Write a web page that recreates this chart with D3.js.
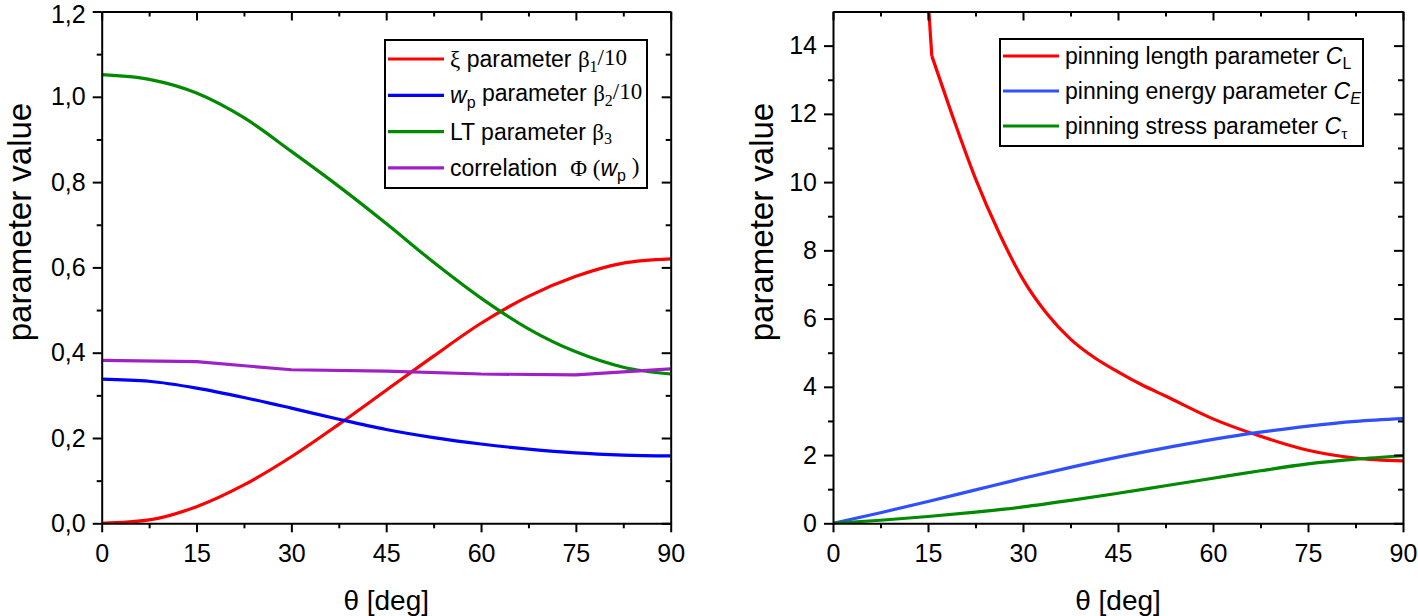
<!DOCTYPE html>
<html><head><meta charset="utf-8">
<script src="https://cdn.jsdelivr.net/npm/d3@7/dist/d3.min.js"></script>
<style>
body{margin:0;background:#fff}
text{font-family:"Liberation Sans",Arial,sans-serif;fill:#000}
</style>
</head><body><svg id="c" width="1418" height="616"></svg>
<script>
// ---------- data ----------
const thetaL   = [0,7.5,15,22.5,30,37.5,45,52.5,60,67.5,75,82.5,90];
const xiBeta1  = [0,0.008,0.039,0.09,0.156,0.232,0.312,0.392,0.469,0.532,0.579,0.61,0.62];
const wpBeta2  = [0.338,0.333,0.317,0.295,0.27,0.244,0.22,0.201,0.186,0.174,0.165,0.16,0.158];
const ltBeta3  = [1.052,1.041,1.009,0.951,0.872,0.79,0.703,0.612,0.528,0.456,0.402,0.366,0.35];
const thetaPhi = [0,15,30,45,60,75,90];
const phiWp    = [0.382,0.379,0.36,0.357,0.35,0.348,0.362];

const thetaCL   = [15,15.6,18.75,22.5,26.25,30,33.75,37.5,41.25,45,48.75,52.5,60,67.5,75,82.5,90];
const pinLength = [15.4,13.7,12.0,10.1,8.5,7.15,6.15,5.4,4.86,4.44,4.06,3.73,3.06,2.55,2.14,1.91,1.83];
const thetaR    = [0,7.5,15,22.5,30,37.5,45,52.5,60,67.5,75,82.5,90];
const pinEnergy = [0,0.31,0.64,0.98,1.32,1.64,1.94,2.21,2.46,2.67,2.85,2.99,3.07];
const pinStress = [0,0.09,0.2,0.33,0.48,0.67,0.88,1.1,1.32,1.54,1.74,1.88,1.98];

const xTicks  = [0,15,30,45,60,75,90];
const xMinor  = [7.5,22.5,37.5,52.5,67.5,82.5];
const yTicksL = [0,0.2,0.4,0.6,0.8,1.0,1.2];
const yMinorL = [0.1,0.3,0.5,0.7,0.9,1.1];
const yTicksR = [0,2,4,6,8,10,12,14];
const yMinorR = [1,3,5,7,9,11,13];

// ---------- drawing ----------
const svg = d3.select("#c");
const TOP = 11.5, BOT = 523.3;

function panel(opt){
  const g = svg.append("g");
  const x = d3.scaleLinear().domain([0,90]).range([opt.x0, opt.x1]);
  const y = d3.scaleLinear().domain(opt.yDom).range([BOT, TOP]);
  const style = sel => { sel.selectAll("path,line").attr("stroke","#000").attr("stroke-width",2);
                         sel.selectAll("text").attr("font-size",25).attr("font-family","Liberation Sans, Arial, sans-serif"); };
  const cid = "clip"+opt.id;
  svg.append("clipPath").attr("id",cid).append("rect")
     .attr("x",opt.x0).attr("y",TOP).attr("width",opt.x1-opt.x0).attr("height",BOT-TOP);
  const lg = g.append("g").attr("clip-path",`url(#${cid})`);
  opt.series.forEach(s=>{
    const pts = s.v.map((d,i)=>[s.t[i],d]);
    const segs = s.split ? [[pts.slice(0,s.split+1),d3.curveLinear],[pts.slice(s.split),d3.curveMonotoneX]]
                         : [[pts, s.curve||d3.curveMonotoneX]];
    segs.forEach(([p,c])=>{
      const line = d3.line().x(d=>x(d[0])).y(d=>y(d[1])).curve(c);
      lg.append("path").datum(p).attr("d",line).attr("fill","none")
        .attr("stroke",s.color).attr("stroke-width",3.2).attr("stroke-linejoin","round");
    });
  });
  const bottom = g.append("g").attr("transform",`translate(0,${BOT})`)
    .call(d3.axisBottom(x).tickValues(xTicks).tickSize(9).tickSizeOuter(0).tickPadding(6).tickFormat(d3.format("d")));
  style(bottom);
  bottom.selectAll("text").attr("dy","0.95em");
  g.append("g").attr("transform",`translate(0,${BOT})`)
    .call(d3.axisBottom(x).tickValues(xMinor).tickSize(5).tickSizeOuter(0).tickFormat("")).call(style)
    .select(".domain").remove();
  const left = g.append("g").attr("transform",`translate(${opt.x0},0)`)
    .call(d3.axisLeft(y).tickValues(opt.yTicks).tickSize(9).tickSizeOuter(0).tickPadding(7).tickFormat(opt.fmt));
  style(left);
  left.selectAll(".tick text").filter(d=>d===opt.yDom[1]).attr("dy","0.42em");
  g.append("g").attr("transform",`translate(${opt.x0},0)`)
    .call(d3.axisLeft(y).tickValues(opt.yMinor).tickSize(5).tickSizeOuter(0).tickFormat("")).call(style)
    .select(".domain").remove();
  g.append("g").attr("transform",`translate(0,${TOP})`)
    .call(d3.axisTop(x).tickValues(xTicks).tickSize(-9).tickSizeOuter(0).tickFormat("")).call(style);
  g.append("g").attr("transform",`translate(0,${TOP})`)
    .call(d3.axisTop(x).tickValues(xMinor).tickSize(-5).tickSizeOuter(0).tickFormat("")).call(style)
    .select(".domain").remove();
  g.append("g").attr("transform",`translate(${opt.x1},0)`)
    .call(d3.axisRight(y).tickValues(opt.yTicks).tickSize(-9).tickSizeOuter(0).tickFormat("")).call(style);
  g.append("g").attr("transform",`translate(${opt.x1},0)`)
    .call(d3.axisRight(y).tickValues(opt.yMinor).tickSize(-5).tickSizeOuter(0).tickFormat("")).call(style)
    .select(".domain").remove();
  g.append("text").attr("x",(opt.x0+opt.x1)/2).attr("y",610).attr("text-anchor","middle")
    .attr("font-size",28).text("θ [deg]");
  g.append("text").attr("transform",`translate(${opt.yTitleX},${opt.yTitleY}) rotate(-90)`)
    .attr("text-anchor","middle").attr("font-size",33).text("parameter value");
  const L = opt.legend;
  g.append("rect").attr("x",L.x).attr("y",L.y).attr("width",L.w).attr("height",L.h)
    .attr("fill","#fff").attr("stroke","#000").attr("stroke-width",2);
  L.items.forEach((it,i)=>{
    const yy = L.y + L.first + i*L.step;
    g.append("line").attr("x1",L.x+3).attr("x2",L.x+59).attr("y1",yy).attr("y2",yy)
      .attr("stroke",it.color).attr("stroke-width",3.2);
    const t = g.append("text").attr("x",L.x+65).attr("y",yy+8).attr("font-size",23);
    it.parts.forEach(p=>{
      const ts = t.append("tspan").text(p.t);
      if(p.i) ts.attr("font-style","italic");
      if(p.serif) ts.attr("font-family","Liberation Serif, Times New Roman, serif");
      if(p.sub) ts.attr("font-size",16).attr("dy","0.3em");
      if(p.up) ts.attr("dy","-0.3em");
    });
  });
}

panel({
  id:"L", x0:101.7, x1:670.7, yDom:[0,1.2], yTicks:yTicksL, yMinor:yMinorL,
  fmt: d=>d3.format(".1f")(d).replace(".",","),
  yTitleX:31, yTitleY:222,
  series:[
    {t:thetaL, v:xiBeta1, color:"#ff0000"},
    {t:thetaL, v:wpBeta2, color:"#0000ff"},
    {t:thetaL, v:ltBeta3, color:"#008a00"},
    {t:thetaPhi, v:phiWp, color:"#a020c8", curve:d3.curveLinear}
  ],
  legend:{x:385,y:40,w:262,h:148,first:19,step:36.3,items:[
    {color:"#ff0000",parts:[{t:"ξ",serif:1},{t:" parameter "},{t:"β",serif:1},{t:"1",sub:1,serif:1},{t:"/10",serif:1,up:1}]},
    {color:"#0000ff",parts:[{t:"w",i:1},{t:"p",sub:1},{t:" parameter ",up:1},{t:"β",serif:1},{t:"2",sub:1,serif:1},{t:"/10",serif:1,up:1}]},
    {color:"#008a00",parts:[{t:"LT parameter "},{t:"β",serif:1},{t:"3",sub:1,serif:1}]},
    {color:"#a020c8",parts:[{t:"correlation\u00a0\u00a0"},{t:"Φ (",serif:1},{t:"w",i:1},{t:"p",sub:1},{t:"\u00a0)",serif:1,up:1}]}
  ]}
});

panel({
  id:"R", x0:833, x1:1403, yDom:[0,15], yTicks:yTicksR, yMinor:yMinorR,
  fmt: d3.format("d"),
  yTitleX:773, yTitleY:222,
  series:[
    {t:thetaCL, v:pinLength, color:"#ff0000", split:1},
    {t:thetaR, v:pinEnergy, color:"#3050ff"},
    {t:thetaR, v:pinStress, color:"#008a00"}
  ],
  legend:{x:1000,y:39,w:363,h:107,first:17,step:35,items:[
    {color:"#ff0000",parts:[{t:"pinning length parameter "},{t:"C",i:1},{t:"L",sub:1}]},
    {color:"#3050ff",parts:[{t:"pinning energy parameter "},{t:"C",i:1},{t:"E",sub:1,i:1}]},
    {color:"#008a00",parts:[{t:"pinning stress parameter "},{t:"C",i:1},{t:"τ",sub:1,serif:1}]}
  ]}
});
</script>
</body></html>
